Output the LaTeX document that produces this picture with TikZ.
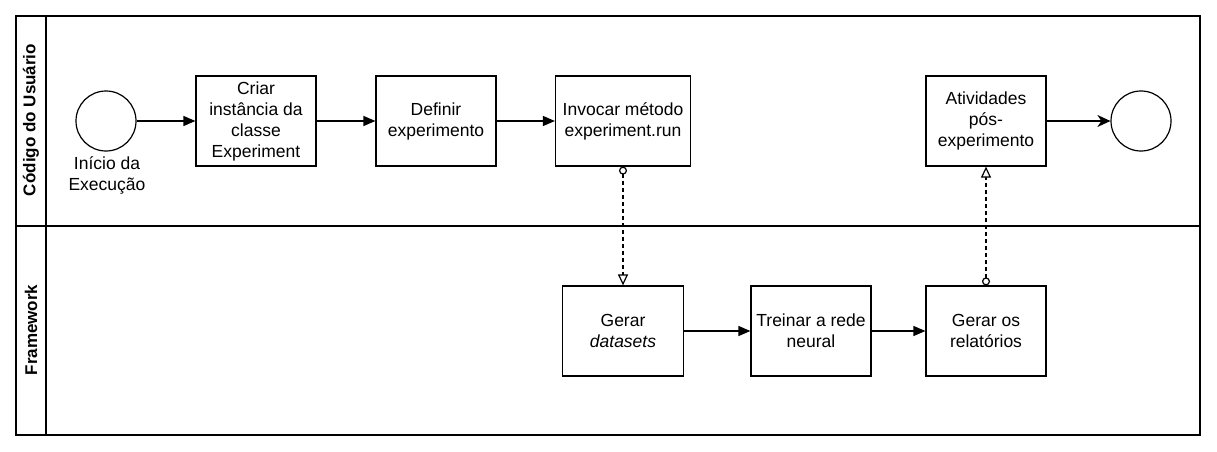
\documentclass[tikz,border=0pt]{standalone}
\usepackage{fontspec}
\setmainfont{Liberation Sans}
\usetikzlibrary{arrows.meta}
\begin{document}
\begin{tikzpicture}[x=1pt,y=-1pt,
  txt/.style={font=\fontsize{17.5}{21}\selectfont, align=center},
  box/.style={txt, draw, line width=1.2pt, minimum width=120pt, minimum height=90pt, inner sep=0pt},
  evt/.style={draw, circle, line width=1.2pt, minimum size=60pt, inner sep=0pt},
  lane/.style={draw, line width=1.5pt},
  hdr/.style={font=\bfseries\fontsize{17}{20}\selectfont, rotate=90},
  flow/.style={line width=1.2pt, -{Triangle[length=12pt,width=10pt]}},
  endflow/.style={line width=1.2pt, -{Stealth[length=13pt,width=12pt,inset=4pt]}},
  msg/.style={line width=1.2pt, dashed, dash pattern=on 4pt off 3pt, {Circle[open,length=8pt,width=8pt,fill=white]}-{Triangle[open,length=11pt,width=10pt,fill=white]}}
]
\useasboundingbox (0,0) rectangle (1217,452);
% pool and lanes
\draw[lane] (16,16) rectangle (1200,435);
\draw[lane] (46,16) -- (46,435);
\draw[lane] (16,226) -- (1200,226);
\node[hdr] (h1) at (31,120) {Código do Usuário};
\node[hdr] (h2) at (31,330) {Framework};
% user lane
\node[evt] (start) at (106,121) {};
\node[txt, anchor=north] (startlbl) at (107,153) {Início da\\Execução};
\node[box] (b1) at (256,121) {Criar\\instância da\\classe\\Experiment};
\node[box] (b2) at (436,121) {Definir\\experimento};
\node[box, minimum width=135pt] (b3) at (623,121) {Invocar método\\experiment.run};
\node[box] (b4) at (986,121) {Atividades\\pós-\\experimento};
\node[evt] (end) at (1141,121) {};
% framework lane
\node[box, minimum width=121pt] (f1) at (623,331) {Gerar\\\textit{datasets}};
\node[box] (f2) at (811,331) {Treinar a rede\\neural};
\node[box] (f3) at (986,331) {Gerar os\\relatórios};
% connectors
\draw[flow] (start) -- (b1);
\draw[flow] (b1) -- (b2);
\draw[flow] (b2) -- (b3);
\draw[endflow] (b4) -- (end);
\draw[flow] (f1) -- (f2);
\draw[flow] (f2) -- (f3);
\draw[msg] (b3.south) -- (f1.north);
\draw[msg] (f3.north) -- (b4.south);
\end{tikzpicture}
\end{document}
